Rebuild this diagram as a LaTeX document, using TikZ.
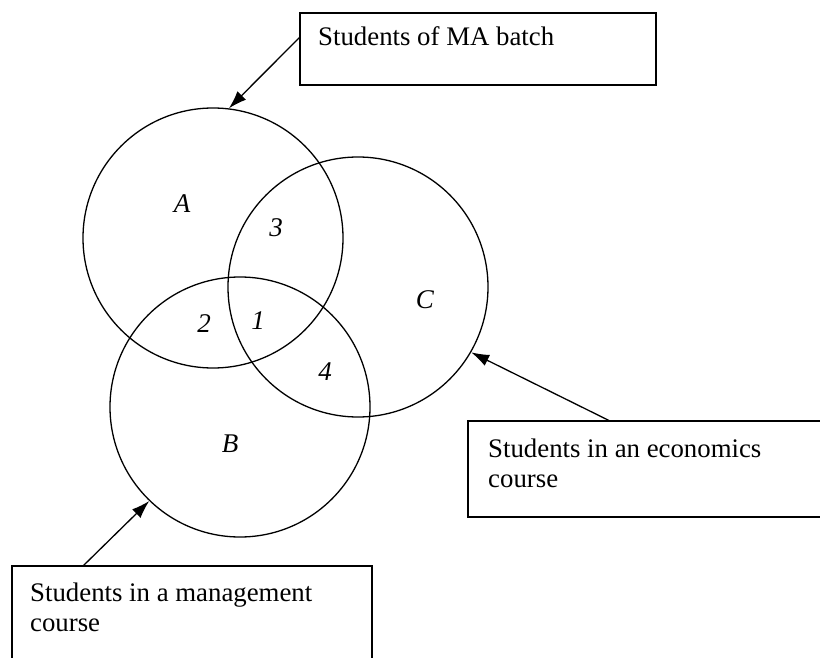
\documentclass[tikz,border=0pt]{standalone}
\usepackage{fontspec}
\setmainfont{Liberation Serif}
\usetikzlibrary{arrows.meta}
\begin{document}
\begin{tikzpicture}[x=1pt,y=-1pt,
  every node/.style={font=\fontsize{26.8}{30}\selectfont},
  setcircle/.style={draw, circle, line width=1.3pt, minimum size=260pt, inner sep=0pt},
  labelbox/.style={draw, rectangle, line width=1.4pt, inner sep=0pt},
  boxtext/.style={anchor=base west, inner sep=0pt},
  region/.style={inner sep=0pt, font=\fontsize{27}{27}\selectfont\itshape},
  pointer/.style={line width=1.3pt, -{Latex[length=18pt,width=12pt]}}]
\useasboundingbox (0,0) rectangle (820,658);
\clip (0,0) rectangle (820,658);
% circles
\node[setcircle] (A) at (213,238) {};
\node[setcircle] (C) at (358,287) {};
\node[setcircle] (B) at (240,407) {};
% region labels
\node[region] (lA) at (182,204) {A};
\node[region] (l3) at (276,228) {3};
\node[region] (l2) at (204,324) {2};
\node[region] (l1) at (258,321) {1};
\node[region] (l4) at (325,372) {4};
\node[region] (lC) at (425,300) {C};
\node[region] (lB) at (230,444) {B};
% boxes
\node[labelbox, minimum width=356pt, minimum height=72pt] (ma) at (478,49) {};
\node[boxtext] (tma) at (318,46) {Students of MA batch};
\node[labelbox, minimum width=360pt, minimum height=140pt] (mg) at (192,636) {};
\node[boxtext] (tmg1) at (30,601) {Students in a management};
\node[boxtext] (tmg2) at (30,631) {course};
\node[labelbox, minimum width=390pt, minimum height=96pt] (ec) at (663,469) {};
\node[boxtext] (tec1) at (488,457) {Students in an economics};
\node[boxtext] (tec2) at (488,487) {course};
% arrow start points on boxes
\coordinate (s1) at (300,37);
\coordinate (s2) at (83,566);
\coordinate (s3) at (610,421);
% arrows
\draw[pointer] (s1) -- (A.83.5);
\draw[pointer] (s2) -- (B.226);
\draw[pointer] (s3) -- (C.330.4);
\end{tikzpicture}
\end{document}
